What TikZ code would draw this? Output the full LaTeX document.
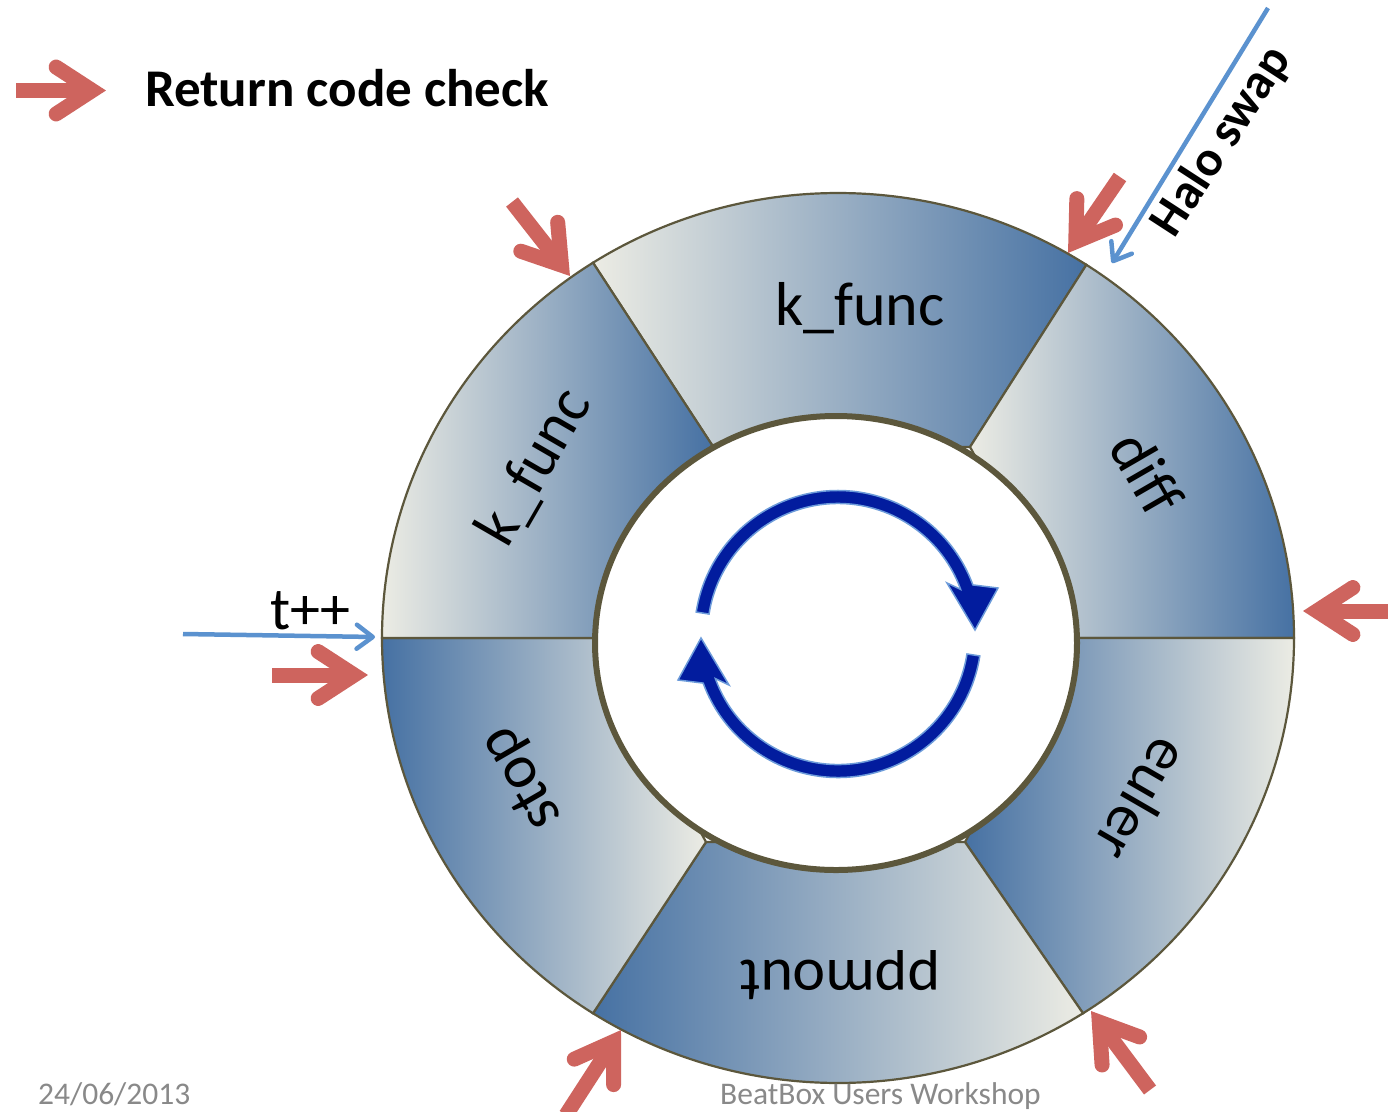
\documentclass[tikz,border=0pt]{standalone}
\usepackage{fontspec}
\setmainfont{Carlito}
\usetikzlibrary{calc,arrows.meta}
\definecolor{segL}{RGB}{236,236,228}
\definecolor{segD}{RGB}{70,113,163}
\definecolor{ringline}{RGB}{92,87,60}
\definecolor{redc}{RGB}{206,100,94}
\definecolor{bluec}{RGB}{91,146,207}
\definecolor{darkb}{RGB}{2,28,158}
\definecolor{lightb}{RGB}{108,155,218}
\definecolor{footc}{RGB}{137,137,137}
\newcommand{\redarrow}[2]{%
  \path ($(#2)!13.8pt!(#1)$) coordinate (rv);
  \draw[redshaft] (#1) -- (rv);
  \draw[redhead] ($(rv)!43pt!33:(#1)$) -- (rv) -- ($(rv)!43pt!-33:(#1)$);
}
\begin{document}
\begin{tikzpicture}[x=1pt,y=-1pt,
  seg/.style={draw=ringline, line width=2.2},
  seglab/.style={font=\fontsize{62}{74}\selectfont, inner sep=0},
  redshaft/.style={draw=redc, line width=15, line cap=butt},
  redhead/.style={draw=redc, line width=15, line cap=round, line join=miter},
  bluearr/.style={draw=bluec, line width=4.5, -{Straight Barb[length=16pt,width=24pt,round]}},
  cyc/.style={fill=darkb, draw=lightb, line width=1.5},
  foot/.style={text=footc, anchor=base west, inner sep=0, text depth=0pt, font=\fontsize{31.5}{38}\selectfont}]
\useasboundingbox (0,0) rectangle (1388,1111);
\fill[white] (0,0) rectangle (1388,1111);

% ring geometry
\coordinate (O) at (838,638);
\coordinate (URo) at ($(O)+(-57:456 and 445)$);
\coordinate (ULo) at ($(O)+(-122.5:456 and 445)$);
\coordinate (LLo) at ($(O)+(122.5:456 and 445)$);
\coordinate (LRo) at ($(O)+(57.5:456 and 445)$);
\coordinate (Ro) at ($(O)+(0:456 and 445)$);
\coordinate (Lo) at ($(O)+(180:456 and 445)$);
\coordinate (URi) at (970,447);
\coordinate (ULi) at (712,445);
\coordinate (LLi) at (706,842);
\coordinate (LRi) at (965,842);
\coordinate (Ri) at (1077,638);
\coordinate (Li) at (595,638);

% segments
\path[seg, left color=segL, right color=segD] (ULi) -- (ULo) arc[start angle=-122.5, end angle=-57, x radius=456, y radius=445] -- (URi) -- cycle;
\path[seg, left color=segL, right color=segD] (URi) -- (URo) arc[start angle=-57, end angle=0, x radius=456, y radius=445] -- (Ri) -- cycle;
\path[seg, left color=segD, right color=segL] (Ri) -- (Ro) arc[start angle=0, end angle=57.5, x radius=456, y radius=445] -- (LRi) -- cycle;
\path[seg, left color=segD, right color=segL] (LRi) -- (LRo) arc[start angle=57.5, end angle=122.5, x radius=456, y radius=445] -- (LLi) -- cycle;
\path[seg, left color=segD, right color=segL] (LLi) -- (LLo) arc[start angle=122.5, end angle=180, x radius=456, y radius=445] -- (Li) -- cycle;
\path[seg, left color=segL, right color=segD] (Li) -- (Lo) arc[start angle=180, end angle=237.5, x radius=456, y radius=445] -- (ULi) -- cycle;

% inner disc
\draw[draw=ringline, line width=6, fill=white] (836,643) ellipse [x radius=241, y radius=227];

% cycle arrows
\begin{scope}[shift={(838,634)}]
\filldraw[cyc] (188.8:143.5) arc[start angle=188.8, end angle=340, radius=143.5] -- (160,-46) -- (137,-4) -- (109,-51) -- (340:130.5) arc[start angle=340, end angle=188.8, radius=130.5] -- cycle;
\filldraw[cyc, rotate=180] (188.8:143.5) arc[start angle=188.8, end angle=340, radius=143.5] -- (160,-46) -- (137,-4) -- (109,-51) -- (340:130.5) arc[start angle=340, end angle=188.8, radius=130.5] -- cycle;
\end{scope}

% segment labels
\node[seglab] (lk1) at (860,308) {k\_func};
\node[seglab, rotate=60] (lk2) at (535,467) {k\_func};
\node[seglab, rotate=-60] (ldiff) at (1147,473) {diff};
\node[seglab, rotate=-120] (leuler) at (1143,800) {euler};
\node[seglab, rotate=180] (lppm) at (840,975) {ppmout};
\node[seglab, rotate=120] (lstop) at (523,778) {stop};

% legend
\coordinate (ra1s) at (16,90.5);
\coordinate (ra1t) at (106,90.5);
\redarrow{ra1s}{ra1t}
\node[font=\bfseries\fontsize{53}{64}\selectfont, anchor=base west, inner sep=0] (leg) at (145,106) {Return code check};

% red return-code arrows
\coordinate (ra2s) at (512,202);   \coordinate (ra2t) at (570,276);
\coordinate (ra3s) at (1120,177);  \coordinate (ra3t) at (1068,253);
\coordinate (ra4s) at (1400,611);  \coordinate (ra4t) at (1303,611);
\coordinate (ra5s) at (272,675);   \coordinate (ra5t) at (368,675);
\coordinate (ra6s) at (1150,1090); \coordinate (ra6t) at (1091,1011);
\coordinate (ra7s) at (566,1115);  \coordinate (ra7t) at (621,1030);
\redarrow{ra2s}{ra2t}
\redarrow{ra3s}{ra3t}
\redarrow{ra4s}{ra4t}
\redarrow{ra5s}{ra5t}
\redarrow{ra6s}{ra6t}
\redarrow{ra7s}{ra7t}

% blue arrows
\coordinate (ts) at (183,634);
\coordinate (tt) at (375,637);
\draw[bluearr] (ts) -- (tt);
\node[font=\fontsize{60}{72}\selectfont, anchor=base west, inner sep=0] (tpp) at (270,629) {t++};
\coordinate (hs) at (1268,8);
\coordinate (ht) at (1112,263);
\draw[bluearr] (hs) -- (ht);
\node[font=\bfseries\fontsize{50}{60}\selectfont, rotate=57, inner sep=0] (halo) at (1222,142) {Halo swap};

% footer
\node[foot] (date) at (38,1104) {24/06/2013};
\node[foot] (ws) at (720,1104) {BeatBox Users Workshop};
\end{tikzpicture}
\end{document}
